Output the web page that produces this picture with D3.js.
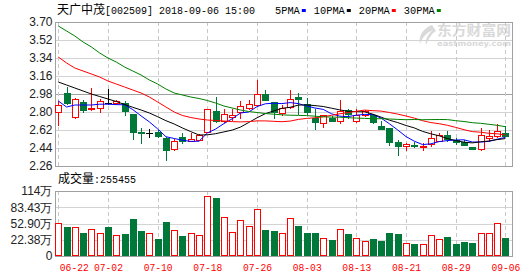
<!DOCTYPE html>
<html><head><meta charset="utf-8">
<script src="https://cdn.jsdelivr.net/npm/d3@7"></script>
<style>body{margin:0;background:#fff}svg{display:block}</style>
</head><body><svg id="c" width="530" height="276"></svg>
<script>
const dates = ["06-22","06-25","06-26","06-27","06-28","06-29","07-02","07-03","07-04","07-05","07-06","07-09","07-10","07-11","07-12","07-13","07-16","07-17","07-18","07-19","07-20","07-23","07-24","07-25","07-26","07-27","07-30","07-31","08-01","08-02","08-03","08-06","08-07","08-08","08-09","08-10","08-13","08-14","08-15","08-16","08-17","08-20","08-21","08-22","08-23","08-24","08-27","08-28","08-29","08-30","08-31","09-03","09-04","09-05","09-06"];
const open  = [2.80,2.99,2.75,2.90,2.83,2.84,2.89,2.89,2.89,2.78,2.60,2.59,2.60,2.54,2.43,2.55,2.51,2.52,2.60,2.81,2.71,2.75,2.80,2.84,2.87,2.98,2.90,2.79,2.85,2.95,2.88,2.74,2.69,2.74,2.71,2.82,2.71,2.77,2.77,2.66,2.64,2.50,2.46,2.47,2.45,2.48,2.51,2.57,2.52,2.50,2.45,2.43,2.54,2.56,2.59];
const close = [2.87,2.89,2.93,2.82,2.84,2.91,2.89,2.91,2.81,2.60,2.585,2.59,2.56,2.42,2.51,2.51,2.53,2.57,2.83,2.71,2.78,2.77,2.86,2.88,2.98,2.92,2.80,2.84,2.93,2.93,2.80,2.70,2.77,2.71,2.81,2.78,2.77,2.81,2.70,2.63,2.50,2.46,2.48,2.465,2.46,2.54,2.57,2.53,2.50,2.47,2.43,2.57,2.56,2.61,2.56];
const high  = [2.91,3.05,2.94,2.92,3.04,2.93,3.03,2.92,2.91,2.78,2.64,2.63,2.62,2.55,2.53,2.59,2.59,2.58,2.83,2.95,2.83,2.83,2.91,2.92,3.12,3.02,2.90,2.87,3.02,2.99,2.94,2.83,2.77,2.76,2.92,2.83,2.83,2.82,2.78,2.71,2.64,2.52,2.49,2.50,2.49,2.61,2.59,2.61,2.54,2.52,2.45,2.64,2.62,2.68,2.66];
const low   = [2.66,2.87,2.73,2.79,2.81,2.79,2.87,2.87,2.76,2.52,2.48,2.54,2.54,2.31,2.41,2.48,2.50,2.51,2.59,2.69,2.69,2.71,2.73,2.82,2.87,2.91,2.73,2.76,2.83,2.77,2.77,2.62,2.64,2.70,2.68,2.73,2.69,2.75,2.68,2.62,2.46,2.36,2.41,2.44,2.41,2.45,2.50,2.50,2.47,2.46,2.42,2.41,2.50,2.54,2.55];
const volume = [54.2,46.6,46.6,35.3,42.3,35.3,46.6,30.9,33.4,61.7,39.1,34.7,24.0,56.1,40.4,29.6,35.3,30.9,104.6,101.4,64.9,36.6,59.3,47.9,80.0,40.4,38.5,34.7,63.0,47.9,35.3,35.3,26.6,21.5,42.3,33.4,25.3,19.6,23.4,20.2,35.3,33.4,15.8,14.5,14.0,30.9,23.4,27.2,14.5,18.3,16.4,34.7,34.7,53.6,25.5455];
const ma5  = [2.91,2.85,2.87,2.87,2.870,2.878,2.878,2.874,2.872,2.824,2.761,2.701,2.631,2.553,2.535,2.518,2.506,2.508,2.590,2.630,2.684,2.732,2.790,2.800,2.854,2.882,2.888,2.884,2.894,2.884,2.860,2.840,2.826,2.782,2.758,2.754,2.768,2.776,2.774,2.738,2.682,2.620,2.554,2.508,2.474,2.482,2.504,2.514,2.520,2.522,2.500,2.500,2.506,2.528,2.546];
const ma10 = [3.10,3.07,3.04,3.01,2.98,2.955,2.93,2.905,2.875,2.847,2.820,2.790,2.753,2.713,2.680,2.640,2.604,2.570,2.572,2.583,2.601,2.619,2.649,2.695,2.742,2.783,2.810,2.837,2.847,2.869,2.871,2.864,2.855,2.838,2.821,2.807,2.804,2.801,2.778,2.748,2.718,2.694,2.665,2.641,2.606,2.582,2.562,2.534,2.514,2.498,2.491,2.502,2.510,2.524,2.534];
const ma20 = [3.35,3.29,3.24,3.21,3.18,3.15,3.11,3.08,3.05,3.02,2.99,2.95,2.90,2.85,2.80,2.765,2.745,2.73,2.72,2.715,2.710,2.704,2.701,2.704,2.711,2.711,2.707,2.703,2.709,2.726,2.736,2.742,2.752,2.767,2.782,2.795,2.807,2.819,2.813,2.809,2.795,2.779,2.760,2.739,2.713,2.694,2.683,2.667,2.646,2.623,2.604,2.598,2.587,2.582,2.570];
const ma30 = [3.66,3.61,3.56,3.50,3.45,3.39,3.34,3.30,3.25,3.21,3.17,3.12,3.08,3.03,2.99,2.97,2.95,2.935,2.915,2.89,2.86,2.84,2.82,2.805,2.795,2.785,2.778,2.772,2.768,2.766,2.764,2.758,2.752,2.749,2.748,2.743,2.739,2.736,2.732,2.733,2.730,2.726,2.723,2.725,2.723,2.724,2.725,2.724,2.713,2.705,2.693,2.687,2.677,2.667,2.653];
const priceTicks = [3.70,3.52,3.34,3.16,2.98,2.80,2.62,2.44,2.26];
const volTicks = [114,83.43,52.90,22.38,-8.12];
const volTickLabels = ["114万","83.43万","52.90万","22.38万","0"];
const xTickLabels = ["06-22","07-02","07-10","07-18","07-26","08-03","08-13","08-21","08-29","09-06"];
const legendNames = ["5PMA","10PMA","20PMA","30PMA"];
const legendColors = ["#0000ff","#000000","#ff0000","#008000"];
const title = ["天广中茂","[002509] 2018-09-06 15:00"];
const volTitle = ["成交量",":255455"];

const RED="#ff0000", GREEN="#00783a";
const L=55.5, R=512.5, PT=22, PB=166, VT=191, VB=256;
const svg=d3.select("#c");
const x=d3.scaleLinear().domain([0,dates.length-1]).range([58.3,505.4]);
const y=d3.scaleLinear().domain([2.26,3.70]).range([PB,PT]);
const vy=d3.scaleLinear().domain([-8.12,114]).range([VB,VT]);
const px=v=>Math.round(v)+0.5;
const mono='"Liberation Mono","DejaVu Sans Mono",monospace';
const cjk='"Noto Sans CJK SC",sans-serif';

// watermark
const wm=svg.append("g").attr("fill","#d9d9d9");
wm.append("text").attr("x",437).attr("y",35).attr("font-family",cjk).attr("font-weight","bold").attr("font-size",13.5).attr("textLength",74).attr("lengthAdjust","spacingAndGlyphs").text("东方财富网");
wm.append("text").attr("x",437).attr("y",46).attr("font-family",'"DejaVu Sans",sans-serif').attr("font-weight","bold").attr("font-size",7.5).attr("textLength",74).attr("lengthAdjust","spacingAndGlyphs").text("eastmoney.com");
wm.append("path").attr("d","M432,25 C424,28 418,35 420,44 C422,38 426,33 433,30 C428,34 425,39 426,45 C429,38 432,33 436,31 Z");

// grid
const g=svg.append("g");
priceTicks.slice(1,-1).forEach(t=>{
  g.append("line").attr("x1",L).attr("x2",R).attr("y1",px(y(t))).attr("y2",px(y(t)))
   .attr("stroke",t===2.98?"#a0a0a0":"#d3d3d3");
});
volTicks.slice(1,-1).forEach(t=>{
  g.append("line").attr("x1",L).attr("x2",R).attr("y1",px(vy(t))).attr("y2",px(vy(t))).attr("stroke","#d3d3d3");
});
xTickLabels.forEach(lab=>{
  const i=dates.indexOf(lab), xx=px(x(i));
  [[PT,PB],[VT,VB]].forEach(([a,b])=>g.append("line").attr("x1",xx).attr("x2",xx).attr("y1",a).attr("y2",b)
    .attr("stroke","#c8c8c8").attr("stroke-dasharray","4,3"));
});
[[PT,PB],[VT,VB]].forEach(([a,b])=>{
  g.append("rect").attr("x",L).attr("y",px(a)).attr("width",R-L).attr("height",Math.round(b-a))
   .attr("fill","none").attr("stroke","#a0a0a0");
});

// candles
const cg=svg.append("g").attr("shape-rendering","crispEdges");
dates.forEach((d,i)=>{
  const o=open[i], c=close[i];
  const col = c>o?RED:(c<o?GREEN:"#000");
  const xx=px(x(i));
  cg.append("line").attr("x1",xx).attr("x2",xx).attr("y1",y(high[i])).attr("y2",y(low[i])).attr("stroke",col);
  if(c===o){
    cg.append("line").attr("x1",xx-3.5).attr("x2",xx+3.5).attr("y1",px(y(c))).attr("y2",px(y(c))).attr("stroke",col);
  } else {
    const top=Math.round(y(Math.max(o,c))), bot=Math.round(y(Math.min(o,c)));
    cg.append("rect").attr("x",xx-3).attr("y",top+0.5).attr("width",6).attr("height",Math.max(1,bot-top))
      .attr("fill",c>o?"#fff":GREEN).attr("stroke",col);
  }
});

// MA lines
const line=d3.line().x((d,i)=>x(i)).y(d=>y(d));
[ma5,ma10,ma20,ma30].forEach((s,k)=>{
  svg.append("path").attr("d",line(s)).attr("fill","none").attr("stroke",legendColors[k]).attr("stroke-width",1);
});

// volume bars
const vg=svg.append("g").attr("shape-rendering","crispEdges");
dates.forEach((d,i)=>{
  const o=open[i], c=close[i];
  const up = c>o || (c===o && i>0 && c>close[i-1]);
  const xx=px(x(i)), top=Math.round(vy(volume[i]));
  vg.append("rect").attr("x",xx-3).attr("y",top+0.5).attr("width",6).attr("height",VB-top-1)
    .attr("fill",up?"#fff":GREEN).attr("stroke",up?RED:GREEN);
});

// axes
const ya=svg.append("g").attr("transform",`translate(${L},0)`)
  .call(d3.axisLeft(y).tickValues(priceTicks).tickFormat(d3.format(".2f")).tickSize(0).tickPadding(3));
const va=svg.append("g").attr("transform",`translate(${L},0)`)
  .call(d3.axisLeft(vy).tickValues(volTicks).tickFormat((d,i)=>volTickLabels[i]).tickSize(0).tickPadding(3));
[ya,va].forEach(a=>{a.select(".domain").remove();
  a.selectAll("text").attr("font-family",'"Liberation Sans",Arial,sans-serif').attr("font-size",12).attr("fill","#222");});
const xa=svg.append("g").attr("transform",`translate(0,${VB})`)
  .call(d3.axisBottom(x).tickValues(xTickLabels.map(l=>dates.indexOf(l))).tickFormat(i=>dates[i]).tickSize(0));
xa.select(".domain").remove();
xa.selectAll("text").attr("font-family",mono).attr("font-size",10.5).attr("fill",RED).attr("y",15).attr("dy",0)
  .attr("textLength",29).attr("lengthAdjust","spacingAndGlyphs");
xa.select(".tick text").attr("text-anchor","start").attr("x",1);

// title
function mixed(xp,yp,parts){
  const t=svg.append("text").attr("x",xp).attr("y",yp).attr("fill","#000");
  t.append("tspan").attr("font-family",cjk).attr("font-size",12).text(parts[0]);
  t.append("tspan").attr("font-family",mono).attr("font-size",11).attr("textLength",parts[1].length*6).attr("lengthAdjust","spacingAndGlyphs").text(parts[1]);
  return t;
}
mixed(57,14,title);
mixed(58,183,volTitle);

// legend
let lx=275;
legendNames.forEach((n,k)=>{
  svg.append("text").attr("x",lx).attr("y",14).attr("font-family",mono).attr("font-size",11)
    .attr("textLength",n.length*6.2).attr("lengthAdjust","spacingAndGlyphs").text(n);
  lx+=n.length*6.2+2;
  svg.append("rect").attr("x",lx).attr("y",9).attr("width",4).attr("height",3).attr("fill",legendColors[k]);
  lx+=4+8;
});
</script></body></html>
